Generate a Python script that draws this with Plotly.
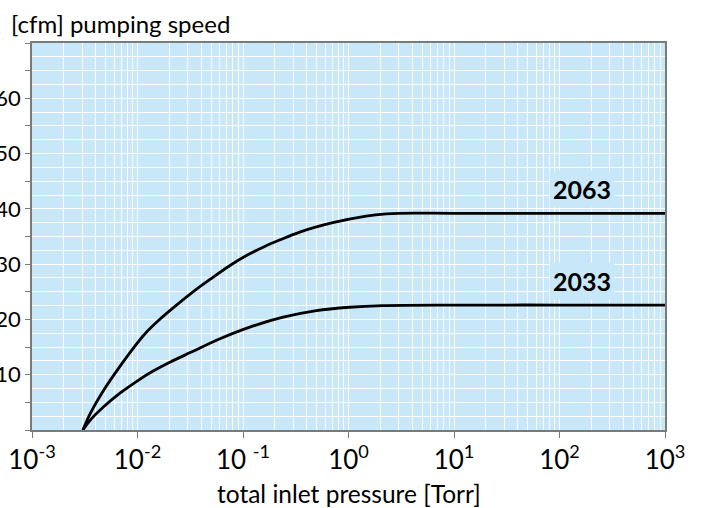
import math
import plotly.graph_objects as go

# ---- data ----
p_2063 = [0.00304, 0.00357, 0.00478, 0.00687, 0.0093, 0.0119, 0.0158, 0.0228, 0.0353, 0.050, 0.0759,
          0.109, 0.157, 0.225, 0.345, 0.71, 1.47, 2.28, 3.0, 10, 100, 1000]
v_2063 = [0, 3.0, 7.2, 11.6, 15.0, 17.5, 19.8, 22.4, 25.3, 27.4, 29.8,
          31.6, 33.1, 34.4, 35.8, 37.5, 38.7, 39.1, 39.2, 39.2, 39.2, 39.2]

p_2033 = [0.00304, 0.00357, 0.00478, 0.00687, 0.01, 0.0142, 0.0205, 0.0316, 0.0605, 0.116, 0.24,
          0.497, 1.02, 2.11, 10, 100, 1000]
v_2033 = [0, 1.8, 4.2, 6.7, 8.9, 10.7, 12.3, 14.0, 16.5, 18.6, 20.4,
          21.6, 22.2, 22.5, 22.6, 22.6, 22.6]

x_tickvals = [1e-3, 1e-2, 1e-1, 1e0, 1e1, 1e2, 1e3]
x_ticktext = ["10<sup>-3</sup>", "10<sup>-2</sup>", "10 <sup>-1</sup>", "10<sup>0</sup>",
              "10<sup>1</sup>", "10<sup>2</sup>", "10<sup>3</sup>"]
y_tickvals = [0, 5, 10, 15, 20, 25, 30, 35, 40, 45, 50, 55, 60, 65, 70]
y_ticktext = ["", "", "10", "", "20", "", "30", "", "40", "", "50", "", "60", "", ""]

labels = ["2063", "2033"]
label_pos_x = [164, 164]
label_pos_y = [43.6, 26.9]

FONT = "Lato"
BG = "#C8E8F9"
AX = "#7a7a7a"

fig = go.Figure()
for p, v in [(p_2063, v_2063), (p_2033, v_2033)]:
    fig.add_trace(go.Scatter(x=p, y=v, mode="lines",
                             line=dict(color="black", width=2.8, shape="spline", smoothing=1.0),
                             hoverinfo="skip", showlegend=False))

for t, lx, ly in zip(labels, label_pos_x, label_pos_y):
    fig.add_annotation(x=math.log10(lx), y=ly, xref="x", yref="y", text=t, showarrow=False,
                       font=dict(family=FONT, size=25, color="black", weight="bold"),
                       bgcolor=BG, borderpad=3)

fig.add_annotation(x=-0.036, y=1.0, xref="paper", yref="paper", xanchor="left", yanchor="bottom",
                   yshift=3, text="[cfm] pumping speed", showarrow=False,
                   font=dict(family=FONT, size=24, color="black"))
fig.add_annotation(x=0.5, y=-0.165, xref="paper", yref="paper", xanchor="center", yanchor="middle",
                   text="total inlet pressure [Torr]", showarrow=False,
                   font=dict(family=FONT, size=24.5, color="black"))

fig.update_xaxes(type="log", range=[-3, 3], tickmode="array", tickvals=x_tickvals, ticktext=x_ticktext,
                 ticks="outside", ticklen=6, tickcolor=AX, tickwidth=1.2,
                 showline=True, linecolor=AX, linewidth=1.5, mirror=True,
                 showgrid=True, gridcolor="white", gridwidth=1,
                 minor=dict(showgrid=True, gridcolor="white", gridwidth=1, dtick="D1", ticks=""),
                 tickfont=dict(family=FONT, size=26, color="black"), zeroline=False)
fig.update_yaxes(range=[0, 70], tickmode="array", tickvals=y_tickvals, ticktext=y_ticktext,
                 ticks="outside", ticklen=5, tickcolor=AX, tickwidth=1.2,
                 showline=True, linecolor=AX, linewidth=1.5, mirror=True,
                 showgrid=True, gridcolor="white", gridwidth=1,
                 minor=dict(tickmode="linear", tick0=0, dtick=2.5, showgrid=True, gridcolor="white",
                            gridwidth=1, ticks=""),
                 tickfont=dict(family=FONT, size=22, color="black"), zeroline=False)

fig.update_layout(width=705, height=508, margin=dict(l=32, r=40, t=43, b=78, autoexpand=False),
                  plot_bgcolor=BG, paper_bgcolor="white")

fig.write_html("out.html", config={"displayModeBar": False},
               post_script="document.body.style.margin='0';")
